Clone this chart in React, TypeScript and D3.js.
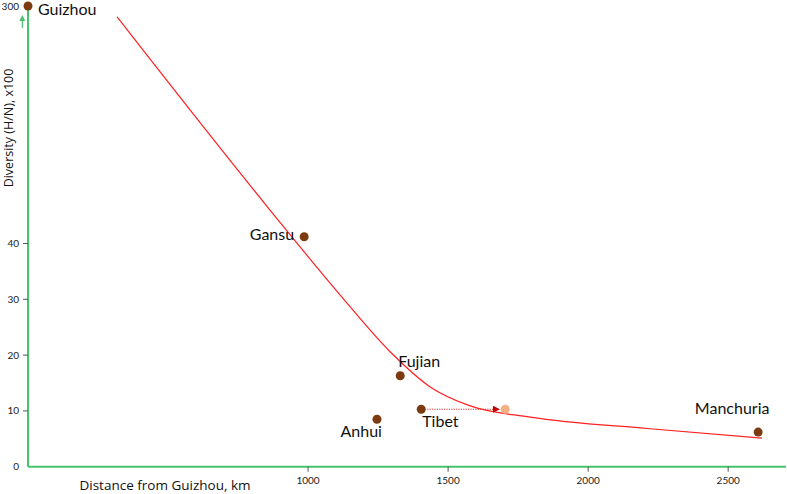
import React from "react";
import * as d3 from "d3";

// observed provinces
const provinces = ["Guizhou", "Gansu", "Fujian", "Anhui", "Tibet", "Manchuria"];
const distances = [0, 986, 1329, 1246, 1404, 2607];
const diversity = [300, 41.2, 16.3, 8.5, 10.3, 6.2];

// Tibet shifted position (arrow target)
const tibetShiftedDistance = 1704;

// fitted trend
const fitDistance = [318, 864, 1114, 1293, 1436, 1579, 1793, 2221, 2621];
const fitDiversity = [285, 46.0, 30.8, 20.6, 14.3, 10.9, 8.9, 6.8, 5.1];

const xTicks = [1000, 1500, 2000, 2500];
const yTicks = [0, 10, 20, 30, 40];

// label placement relative to each dot
const labelPos: Record<string, { dx: number; dy: number; anchor: string }> = {
  Guizhou: { dx: 10, dy: 8.5, anchor: "start" },
  Gansu: { dx: -10, dy: 3, anchor: "end" },
  Fujian: { dx: -2, dy: -9, anchor: "start" },
  Anhui: { dx: 5, dy: 18, anchor: "end" },
  Tibet: { dx: 1, dy: 18, anchor: "start" },
  Manchuria: { dx: -26, dy: -18, anchor: "middle" },
};

const W = 787;
const H = 494;
const green = "#45c46e";
const brown = "#7b3a0f";
const font = "Lato, 'Open Sans', sans-serif";
const titleFont = "'Open Sans', sans-serif";

export default function App() {
  const x = d3.scaleLinear().domain([0, 2710]).range([28, 787]);
  // broken axis: 0-50 linear, then compressed up to 300
  const y = d3.scaleLinear().domain([0, 50, 300]).range([466.7, 187.7, 6]);

  const line = d3
    .line<number>()
    .x((d) => x(fitDistance[d]))
    .y((d) => y(fitDiversity[d]))
    .curve(d3.curveMonotoneX);

  const x0 = x(0);
  const y0 = y(0);
  const tibet = provinces.indexOf("Tibet");

  return (
    <svg width={W} height={H} style={{ position: "absolute", left: 0, top: 0 }} fontFamily={font}>
      <defs>
        <marker id="redHead" viewBox="0 0 10 10" refX="9" refY="5" markerWidth="7" markerHeight="7" orient="auto" markerUnits="userSpaceOnUse">
          <path d="M0,0 L10,5 L0,10 z" fill="#c00000" />
        </marker>
        <marker id="greenHead" viewBox="0 0 10 10" refX="5" refY="5" markerWidth="5" markerHeight="5" orient="auto">
          <path d="M0,0 L10,5 L0,10 z" fill={green} />
        </marker>
      </defs>

      {/* axes */}
      <line x1={x0} x2={x0} y1={5} y2={y0} stroke={green} strokeWidth={2} />
      <line x1={x0} x2={786} y1={y0} y2={y0} stroke={green} strokeWidth={2} />
      <line x1={22.3} x2={22.3} y1={28} y2={18} stroke={green} strokeWidth={1.2} markerEnd="url(#greenHead)" />

      {yTicks.map((t) => (
        <g key={t}>
          {t > 0 && <line x1={x0 - 5} x2={x0} y1={y(t)} y2={y(t)} stroke="#555" strokeWidth={1} />}
          <text x={19} y={y(t)} dy="0.35em" textAnchor="end" fontSize={10} fill="#222">
            {t}
          </text>
        </g>
      ))}
      <text x={19} y={y(300)} dy="0.35em" textAnchor="end" fontSize={10} fill="#222">
        300
      </text>

      {xTicks.map((t) => (
        <g key={t}>
          <line x1={x(t)} x2={x(t)} y1={y0} y2={y0 + 5} stroke="#555" strokeWidth={1} />
          <text x={x(t)} y={y0 + 17} textAnchor="middle" fontSize={10} fill="#222">
            {t}
          </text>
        </g>
      ))}

      <text x={165} y={490} textAnchor="middle" fontSize={13.5} fill="#111" fontFamily={titleFont}>
        Distance from Guizhou, km
      </text>
      <text transform="translate(12.5,128) rotate(-90)" textAnchor="middle" fontSize={12.5} fill="#111" fontFamily={titleFont}>
        Diversity (H/N), x100
      </text>

      {/* fitted curve */}
      <path d={line(d3.range(fitDistance.length)) || ""} fill="none" stroke="#ff2020" strokeWidth={1.2} />

      {/* Tibet shift */}
      <line
        x1={x(distances[tibet]) + 6}
        x2={x(tibetShiftedDistance) - 6}
        y1={y(diversity[tibet])}
        y2={y(diversity[tibet])}
        stroke="#d03030"
        strokeWidth={1}
        strokeDasharray="1.2,1.2"
        markerEnd="url(#redHead)"
      />
      <circle cx={x(tibetShiftedDistance)} cy={y(diversity[tibet])} r={4.5} fill="#f4b183" />

      {provinces.map((p, i) => {
        const cx = x(distances[i]);
        const cy = y(diversity[i]);
        const l = labelPos[p];
        return (
          <g key={p}>
            <circle cx={cx} cy={cy} r={4.5} fill={brown} />
            <text x={cx + l.dx} y={cy + l.dy} textAnchor={l.anchor} fontSize={16} fill="#111">
              {p}
            </text>
          </g>
        );
      })}
    </svg>
  );
}
